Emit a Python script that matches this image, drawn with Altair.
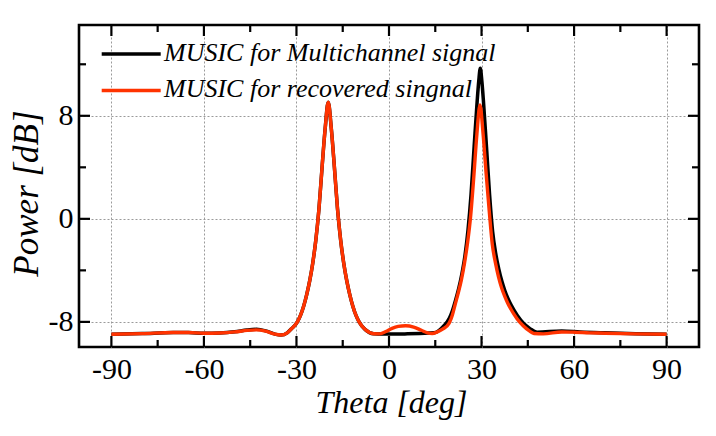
import altair as alt
import pandas as pd

# ---- data ----
series_names = ["MUSIC for Multichannel signal", "MUSIC for recovered singnal"]

theta_black = [-90, -80, -70, -65, -60, -55, -50, -46, -43, -40, -37, -35, -33, -31.7,
               -29.7, -28.7, -27.7, -26.7, -25.7, -24.7, -23.7, -22.7, -21.7, -20.7, -19.7,
               -18.7, -17.7, -16.7, -15.7, -14.7, -13.7, -12.7, -11.7, -10.7, -9.7, -7.7,
               -5, -2, 2, 6, 10, 13, 14.6, 17.6, 19.6, 20.6, 21.6, 22.6, 23.6, 24.6, 25.6,
               26.6, 27.6, 28.6, 29.1, 29.6, 30.1, 30.6, 31.6, 32.6, 33.6, 34.6, 35.6, 36.6,
               37.6, 38.6, 39.6, 41.6, 43.6, 45.6, 48, 56, 62, 70, 80, 90]
power_black = [-8.96, -8.91, -8.83, -8.83, -8.88, -8.86, -8.77, -8.63, -8.58, -8.7, -8.95, -9.02, -8.85, -8.55,
               -8.0, -7.5, -6.8, -5.9, -4.8, -3.4, -1.6, 0.8, 4.0, 7.0, 9.05,
               7.0, 4.0, 0.8, -1.6, -3.4, -4.8, -5.9, -6.8, -7.5, -8.0, -8.6,
               -8.92, -8.95, -8.95, -8.93, -8.9, -8.87, -8.85, -8.35, -7.7, -7.1, -6.3, -5.4, -4.3, -2.9, -0.9,
               1.9, 5.6, 9.2, 10.7, 11.7, 10.7, 9.2, 5.6, 1.9, -1.0, -2.7, -3.9, -4.85,
               -5.6, -6.2, -6.7, -7.5, -8.1, -8.5, -8.8, -8.7, -8.78, -8.85, -8.92, -8.96]

theta_red = [-90, -80, -70, -65, -60, -55, -50, -46, -43, -40, -37, -35, -33, -31.7,
             -29.7, -28.7, -27.7, -26.7, -25.7, -24.7, -23.7, -22.7, -21.7, -20.7, -19.7,
             -18.7, -17.7, -16.7, -15.7, -14.7, -13.7, -12.7, -11.7, -10.7, -9.7, -7.7,
             -5, -3, -1, 1, 3, 5.4, 8, 10.5, 12.5, 14, 15.5, 17.5, 19.5, 20.5, 21.5, 22.5,
             23.5, 24.5, 25.5, 26.5, 27.5, 28.5, 29.5, 30.5, 31.5, 32.5, 33.5, 34.5, 35.5,
             36.5, 37.5, 38.5, 39.5, 40.5, 41.5, 43.5, 45.5, 47, 50, 56, 60, 65, 70, 80, 90]
power_red = [-8.96, -8.91, -8.83, -8.83, -8.88, -8.86, -8.78, -8.66, -8.62, -8.72, -8.95, -9.02, -8.85, -8.55,
             -8.0, -7.5, -6.8, -5.9, -4.8, -3.4, -1.6, 0.8, 4.0, 7.0, 9.05,
             7.0, 4.0, 0.8, -1.6, -3.4, -4.8, -5.9, -6.8, -7.5, -8.0, -8.6,
             -8.92, -8.93, -8.75, -8.5, -8.35, -8.3, -8.4, -8.65, -8.85, -8.9, -8.8, -8.55, -8.1, -7.5, -6.6, -5.7,
             -4.7, -3.4, -1.8, 0.3, 3.3, 6.6, 8.85, 6.6, 3.5, 0.6, -2.0, -3.4, -4.5,
             -5.35, -6.0, -6.55, -7.0, -7.4, -7.75, -8.3, -8.7, -8.9, -8.93, -8.78, -8.8, -8.85, -8.88, -8.93, -8.96]

x_major = [-90, -60, -30, 0, 30, 60, 90]
x_minor = [-75, -45, -15, 15, 45, 75]
y_major = [-8, 0, 8]
y_minor = [-4, 4, 12]

line_colors = ["#000000", "#ff3300"]

W, H = 620, 322
FONT = "Liberation Serif"

df_black = pd.DataFrame({"theta": theta_black, "power": power_black, "series": series_names[0]})
df_red = pd.DataFrame({"theta": theta_red, "power": power_red, "series": series_names[1]})

xscale = alt.Scale(domain=[-100.5, 100.5], nice=False, zero=False)
yscale = alt.Scale(domain=[-9.95, 15.05], nice=False, zero=False)

xaxis = alt.Axis(values=x_major, grid=True, gridDash=[2, 2], gridColor="#9a9a9a", gridWidth=1,
                 ticks=False, tickSize=0, domain=False, labelFont=FONT, labelFontSize=30,
                 labelColor="black", labelExpr="'' + datum.value", labelPadding=7,
                 title="Theta [deg]", titleFont=FONT, titleFontStyle="italic", titleX=312,
                 titleFontSize=32, titleFontWeight="normal", titleColor="black", titlePadding=3)
yaxis = alt.Axis(values=y_major, grid=True, gridDash=[2, 2], gridColor="#9a9a9a", gridWidth=1,
                 ticks=False, tickSize=0, domain=False, labelFont=FONT, labelFontSize=30,
                 labelColor="black", labelExpr="'' + datum.value", labelPadding=6,
                 title="Power [dB]", titleFont=FONT, titleFontStyle="italic", titleY=168,
                 titleFontSize=35, titleFontWeight="normal", titleColor="black", titlePadding=4)

color = alt.Color("series:N", scale=alt.Scale(domain=series_names, range=line_colors), legend=None)

line_black = alt.Chart(df_black).mark_line(strokeWidth=3.5, interpolate="monotone").encode(
    x=alt.X("theta:Q", scale=xscale, axis=xaxis),
    y=alt.Y("power:Q", scale=yscale, axis=yaxis),
    color=color,
)
line_red = alt.Chart(df_red).mark_line(strokeWidth=3.4, interpolate="monotone").encode(
    x=alt.X("theta:Q", scale=xscale, axis=xaxis),
    y=alt.Y("power:Q", scale=yscale, axis=yaxis),
    color=color,
)

# ---- legend (drawn inside the plot, top-left) ----
legend_layers = []
for i, name in enumerate(series_names):
    ldf = pd.DataFrame({"label": [name]})
    ly = 29 + 36.5 * i
    legend_layers.append(
        alt.Chart(ldf).mark_rule(color=line_colors[i], strokeWidth=3.5).encode(
            x=alt.value(22.7), x2=alt.value(81.7), y=alt.value(ly)))
    legend_layers.append(
        alt.Chart(ldf).mark_text(align="left", baseline="alphabetic", font=FONT, fontStyle="italic",
                                 fontSize=26, color="black").encode(
            text="label:N", x=alt.value(85), y=alt.value(ly + 6.5)))

# ---- inward ticks on all four sides ----
xt_major = pd.DataFrame({"v": x_major})
xt_minor = pd.DataFrame({"v": x_minor})
yt_major = pd.DataFrame({"v": y_major})
yt_minor = pd.DataFrame({"v": y_minor})

def xticks(df, length):
    bottom = alt.Chart(df).mark_rule(color="black", strokeWidth=2.2).encode(
        x=alt.X("v:Q", scale=xscale), y=alt.value(H), y2=alt.value(H - length))
    top = alt.Chart(df).mark_rule(color="black", strokeWidth=2.2).encode(
        x=alt.X("v:Q", scale=xscale), y=alt.value(0), y2=alt.value(length))
    return bottom + top

def yticks(df, length):
    left = alt.Chart(df).mark_rule(color="black", strokeWidth=2.2).encode(
        y=alt.Y("v:Q", scale=yscale), x=alt.value(0), x2=alt.value(length))
    right = alt.Chart(df).mark_rule(color="black", strokeWidth=2.2).encode(
        y=alt.Y("v:Q", scale=yscale), x=alt.value(W), x2=alt.value(W - length))
    return left + right

chart = alt.layer(
    line_black, line_red,
    xticks(xt_major, 11), xticks(xt_minor, 7),
    yticks(yt_major, 11), yticks(yt_minor, 7),
    *legend_layers,
).properties(
    width=W, height=H,
    autosize=alt.AutoSizeParams(type="none"),
    padding={"left": 71, "top": 17, "right": 9, "bottom": 81},
    background="white",
).configure_view(stroke="black", strokeWidth=2.6)

chart.save("out.html", embed_options={"renderer": "svg", "actions": False})
